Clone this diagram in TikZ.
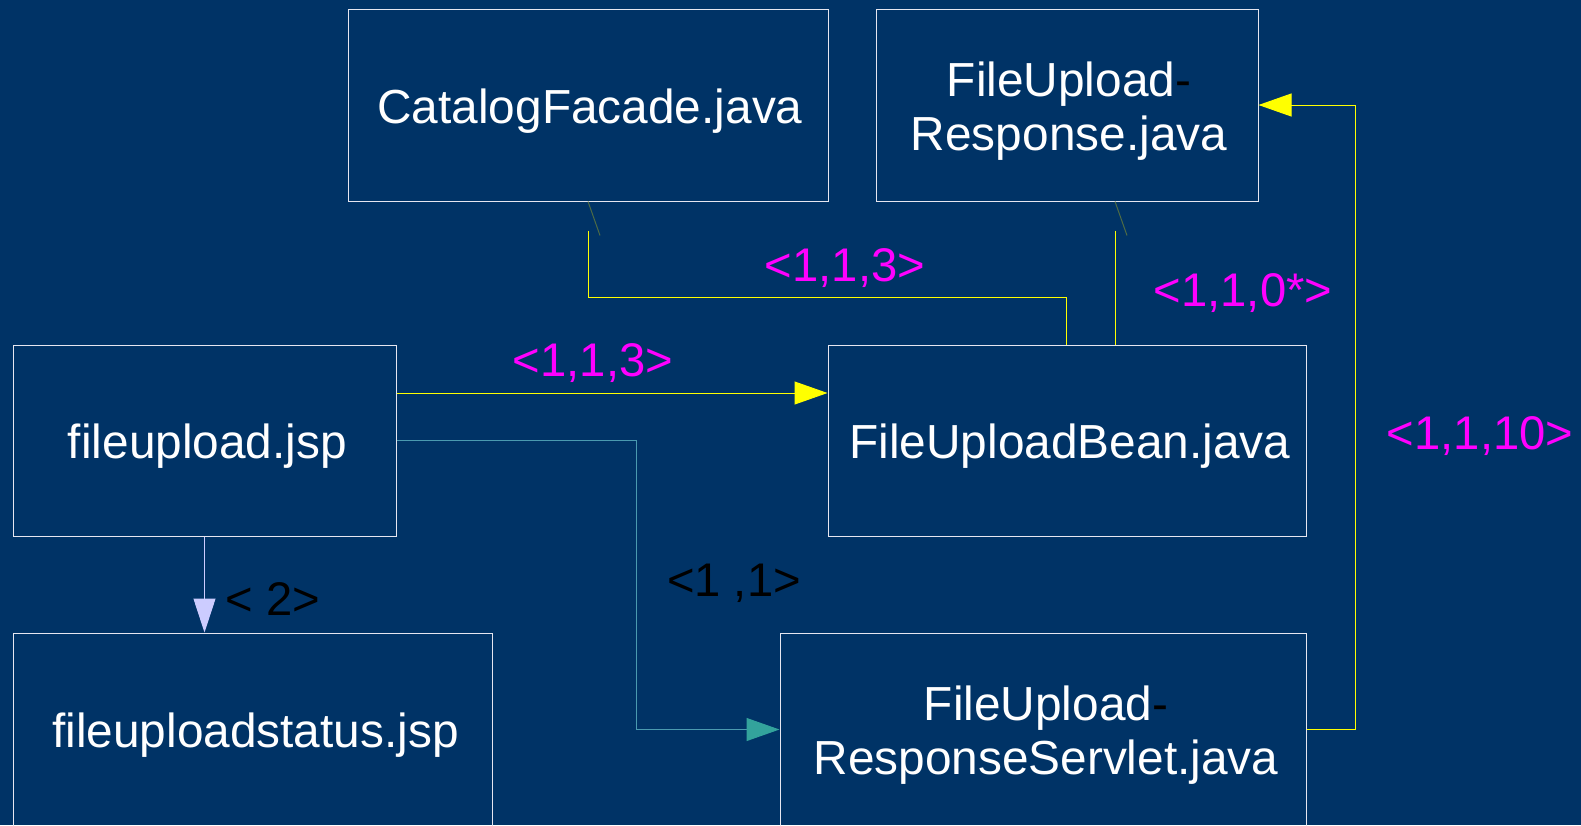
\documentclass[tikz,border=0pt]{standalone}
\usepackage{fontspec}
\setmainfont{Liberation Sans}
\usetikzlibrary{arrows.meta,calc}
\definecolor{bg}{HTML}{003366}
\definecolor{boxline}{HTML}{E6E6F0}
\definecolor{yel}{HTML}{FFFF00}
\definecolor{mag}{HTML}{FF00FF}
\definecolor{lav}{HTML}{CCCCFF}
\definecolor{tealline}{HTML}{4A9AB0}
\definecolor{tealhead}{HTML}{33A39C}
\definecolor{slantc}{HTML}{4D6B45}
\tikzset{
  box/.style={draw=boxline, line width=1pt, inner sep=0pt},
  boxtext/.style={inner sep=0pt, text=white, align=center,
    font=\fontsize{47.8pt}{54pt}\selectfont},
  lbl/.style={inner sep=0pt, text depth=0pt, font=\fontsize{47.2pt}{54pt}\selectfont},
  yline/.style={draw=yel, line width=1pt},
  yarrow/.style={draw=yel, line width=1pt, -{Triangle[length=33pt,width=23pt,fill=yel]}},
  lavarrow/.style={draw=lav, line width=1pt, -{Triangle[length=34pt,width=22pt,fill=lav]}},
  tealarrow/.style={draw=tealline, line width=1pt, -{Triangle[length=33pt,width=23pt,color=tealhead,fill=tealhead]}},
  slant/.style={draw=slantc, line width=1pt},
}
\newcommand{\blk}[1]{\textcolor{black}{#1}}
\begin{document}
\begin{tikzpicture}[x=1pt,y=-1pt]
\useasboundingbox (0,0) rectangle (1581,825);
\fill[bg] (0,0) rectangle (1581,825);
\clip (0,0) rectangle (1581,825);

% boxes
\node[box, minimum width=480pt, minimum height=192pt] (cf) at (588,105) {};
\node[box, minimum width=382pt, minimum height=192pt] (resp) at (1067,105) {};
\node[box, minimum width=383pt, minimum height=191pt] (fu) at (204.5,440.5) {};
\node[box, minimum width=478pt, minimum height=191pt] (bean) at (1067,440.5) {};
\node[box, minimum width=479pt, minimum height=193pt] (st) at (252.5,729.5) {};
\node[box, minimum width=526pt, minimum height=193pt] (sv) at (1043,729.5) {};

% box texts
\node[boxtext] (cft) at ($(cf)+(2,6)$) {CatalogFacade.java};
\node[boxtext] (respt) at ($(resp)+(2,6)$) {FileUpload\blk{-}\\Response.java};
\node[boxtext] (fut) at ($(fu)+(3,6)$) {fileupload.jsp};
\node[boxtext] (beant) at ($(bean)+(3,6)$) {FileUploadBean.java};
\node[boxtext] (stt) at ($(st)+(3,6)$) {fileuploadstatus.jsp};
\node[boxtext] (svt) at ($(sv)+(3,6)$) {FileUpload\blk{-}\\ResponseServlet.java};

% connectors
\draw[yarrow] ($(fu.east)+(0,-47.5)$) -- ($(bean.west)+(0,-47.5)$);
\draw[tealarrow] (fu.east) -- ++(240,0) |- (sv.west);
\draw[lavarrow] (fu.south) -- (fu.south |- st.north);
\draw[yarrow] (sv.east) -- ++(48.5,0) |- (resp.east);

\draw[slant] (cf.south) -- ++(12,34);
\draw[yline] ($(cf.south)+(0.5,29)$) -- ++(0,67) -| ($(bean.north)+(-0.5,0)$);
\draw[slant] ($(resp.south)+(48,0)$) -- ++(12,34);
\draw[yline] ($(resp.south)+(48,29)$) coordinate (rs) -- (rs |- bean.north);

% labels
\node[lbl, text=mag] (l1) at (845,265) {<1,1,3>};
\node[lbl, text=mag] (l2) at (1243,290) {<1,1,0*>};
\node[lbl, text=mag] (l3) at (593,360) {<1,1,3>};
\node[lbl, text=mag] (l4) at (1480,433) {<1,1,10>};
\node[lbl, text=black] (l5) at (734,580) {<1 ,1>};
\node[lbl, text=black] (l6) at (273,599) {< 2>};
\end{tikzpicture}
\end{document}
